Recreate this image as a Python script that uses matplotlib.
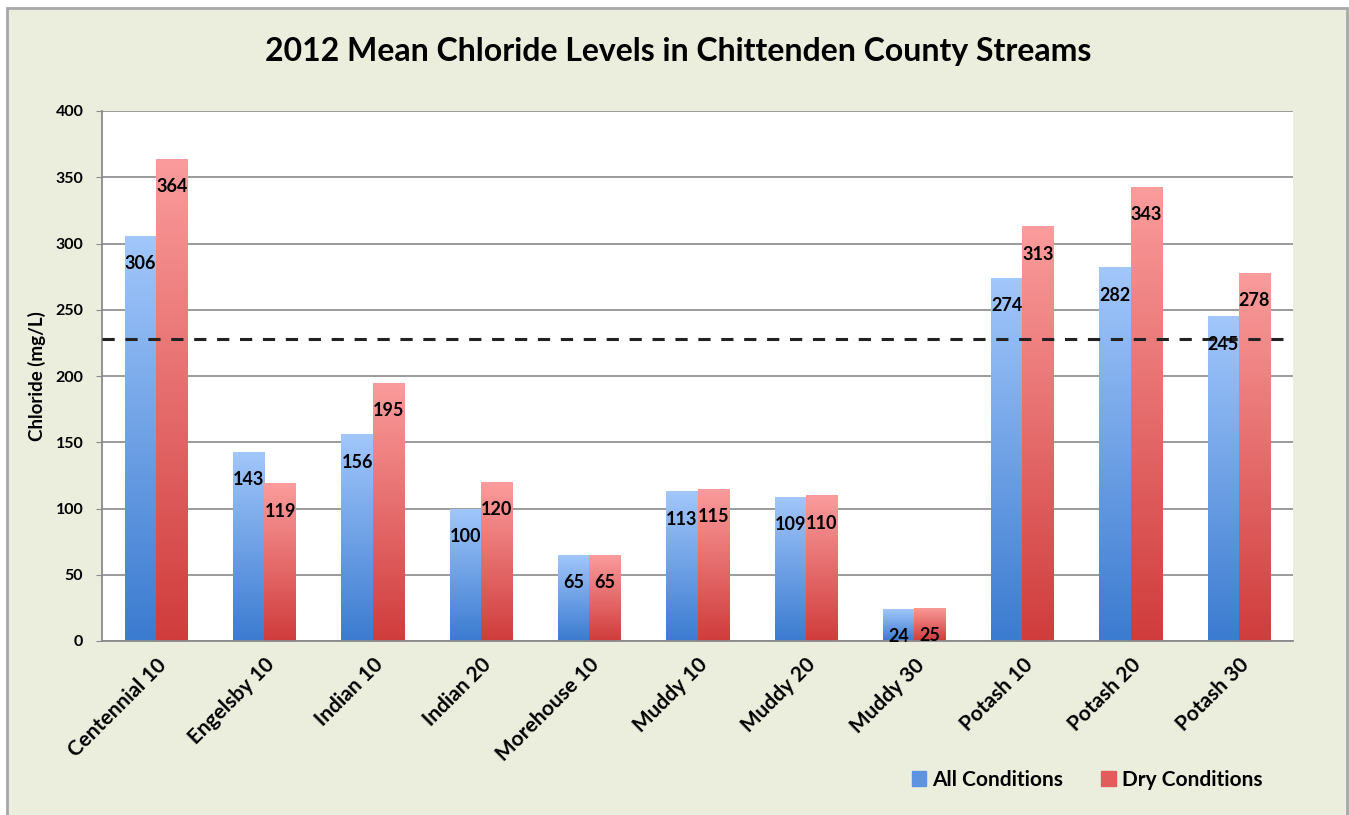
import numpy as np
import matplotlib
matplotlib.use("Agg")
import matplotlib.pyplot as plt
from matplotlib.patches import Rectangle
from matplotlib.colors import LinearSegmentedColormap

sites = ["Centennial 10", "Engelsby 10", "Indian 10", "Indian 20", "Morehouse 10",
         "Muddy 10", "Muddy 20", "Muddy 30", "Potash 10", "Potash 20", "Potash 30"]
all_cond = [306, 143, 156, 100, 65, 113, 109, 24, 274, 282, 245]
dry_cond = [364, 119, 195, 120, 65, 115, 110, 25, 313, 343, 278]
standard = 228

plt.rcParams['font.family'] = ['Lato', 'DejaVu Sans']
plt.rcParams['font.weight'] = 'bold'

fig = plt.figure(figsize=(13.49, 8.15), dpi=100, facecolor='white')
fig.patches.append(Rectangle((7 / 1349, -0.05), 1340 / 1349, 1 - 8 / 815 + 0.05,
                             transform=fig.transFigure, facecolor='#ebeedd',
                             edgecolor='#a8a8a8', linewidth=2, zorder=-5))

ax = fig.add_axes([102 / 1349, 1 - 641 / 815, (1293 - 102) / 1349, (641 - 111) / 815])
ax.set_facecolor('white')

x = np.arange(len(sites))
w = 0.288
blue_cm = LinearSegmentedColormap.from_list('b', ['#3b7bd0', '#a2c7fb'])
red_cm = LinearSegmentedColormap.from_list('r', ['#d03c3c', '#fb9c9c'])
grad = np.linspace(0, 1, 256).reshape(-1, 1)

b1 = ax.bar(x - w / 2, all_cond, w, color='#5d93e0', label='All Conditions', zorder=2)
b2 = ax.bar(x + w / 2, dry_cond, w, color='#e25c5c', label='Dry Conditions', zorder=2)

# vertical gradient inside each bar
for bars, cm in [(b1, blue_cm), (b2, red_cm)]:
    for p in bars:
        bx, by = p.get_x(), p.get_y()
        bw, bh = p.get_width(), p.get_height()
        im = ax.imshow(grad, cmap=cm, origin='lower', aspect='auto',
                       extent=[bx, bx + bw, by, by + bh], zorder=2)
        im.set_clip_path(p)
        p.set_alpha(0)

for bars, vals in [(b1, all_cond), (b2, dry_cond)]:
    for p, v in zip(bars, vals):
        ax.annotate(str(v), (p.get_x() + p.get_width() / 2, v), xytext=(0, -20),
                    textcoords='offset points', ha='center', va='center',
                    fontsize=13, fontweight='bold', color='black', zorder=4)

ax.axhline(standard, color='#222222', linestyle=(0, (4, 3.5)), linewidth=2.2, zorder=3)

ax.set_xlim(-0.5, len(sites) - 0.5)
ax.set_ylim(0, 400)
ax.set_yticks(range(0, 401, 50))
ax.yaxis.grid(True, color='#8a8a8a', linewidth=1.2, zorder=0)
ax.set_axisbelow(True)
ax.set_xticks(x)
ax.set_xticklabels(sites, rotation=45, ha='right', rotation_mode='anchor',
                   fontsize=15, fontweight='bold')
ax.tick_params(axis='x', length=0, pad=10)
ax.tick_params(axis='y', length=4.5, color='#8a8a8a', labelsize=11.5, pad=9)
for s in ['top', 'right']:
    ax.spines[s].set_visible(False)
for s in ['left', 'bottom']:
    ax.spines[s].set_color('#8a8a8a')
    ax.spines[s].set_linewidth(1.3)

ax.set_ylabel('Chloride (mg/L)', fontsize=13.5, fontweight='bold', labelpad=7)
fig.text(678 / 1349, 1 - 52 / 815, '2012 Mean Chloride Levels in Chittenden County Streams',
         ha='center', va='center', fontsize=23, fontweight='bold')

h, l = ax.get_legend_handles_labels()
fig.legend(handles=[Rectangle((0, 0), 1, 1, color='#5d93e0'), Rectangle((0, 0), 1, 1, color='#e25c5c')],
           labels=l, loc='center', bbox_to_anchor=(1087 / 1349, 1 - 780 / 815), ncol=2,
           frameon=False, fontsize=15, handlelength=0.7, handleheight=0.7,
           handletextpad=0.3, columnspacing=1.8)

fig.savefig('out.png', dpi=100, facecolor=fig.get_facecolor())
